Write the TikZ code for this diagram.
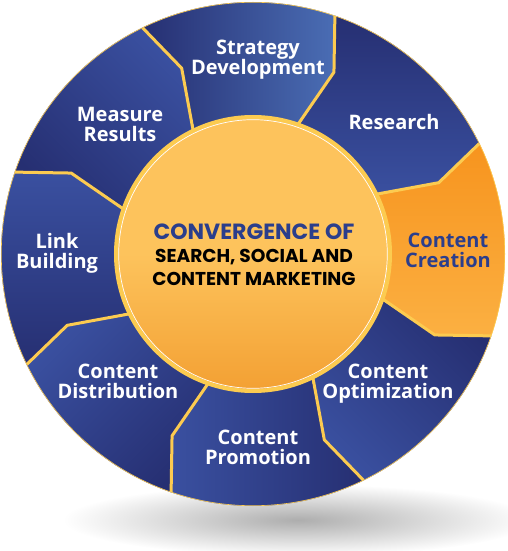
\documentclass[tikz,border=0pt]{standalone}
\usepackage{fontspec}
\usepackage{tikz}
\usetikzlibrary{positioning}

\newfontfamily\lblfont{Open Sans}
\newfontfamily\hubfont{Poppins}

\definecolor{navy}{HTML}{262F72}
\definecolor{navylight}{HTML}{3A50A0}
\definecolor{stratblue}{HTML}{4A6DB4}
\definecolor{segorange}{HTML}{F7941E}
\definecolor{segorangelight}{HTML}{FBB042}
\definecolor{rimyellow}{HTML}{FCCB50}
\definecolor{hubtop}{HTML}{FDC35C}
\definecolor{hubbottom}{HTML}{F3A033}
\definecolor{textblue}{HTML}{2B3E8C}

\tikzset{
  sep/.style={draw=rimyellow, line width=3pt, line join=round},
  lbl/.style={font=\lblfont\bfseries\fontsize{20}{20}\selectfont, text=white,
    align=center, anchor=north, inner sep=0pt},
  hubtxt/.style={anchor=base, inner sep=0pt}
}

\begin{document}
\begin{tikzpicture}[x=1pt,y=1pt]
\useasboundingbox (-253,-297) rectangle (255,254);

% shadow under the wheel
\shade[inner color=black!32, outer color=white] (45,-266) ellipse[x radius=235, y radius=36];

% segments
\shade[left color=navy, right color=stratblue] (116:130) -- (111:199) -- (116:252)
  arc[start angle=116, end angle=71, radius=252] -- (66:199) -- (71:130) -- cycle;
\shade[top color=navy, bottom color=navylight] (71:130) -- (66:199) -- (71:252)
  arc[start angle=71, end angle=26, radius=252] -- (21:199) -- (26:130) -- cycle;
\shade[top color=segorange, bottom color=segorangelight] (26:130) -- (21:199) -- (26:252)
  arc[start angle=26, end angle=-19, radius=252] -- (-24:199) -- (-19:130) -- cycle;
\shade[top color=navy, bottom color=navylight, shading angle=-45] (-19:130) -- (-24:199) -- (-19:252)
  arc[start angle=-19, end angle=-64, radius=252] -- (-69:199) -- (-64:130) -- cycle;
\shade[left color=navylight, right color=navy] (-64:130) -- (-69:199) -- (-64:252)
  arc[start angle=-64, end angle=-109, radius=252] -- (-114:199) -- (-109:130) -- cycle;
\shade[top color=navylight, bottom color=navy, shading angle=45] (-109:130) -- (-114:199) -- (-109:252)
  arc[start angle=-109, end angle=-154, radius=252] -- (-159:199) -- (-154:130) -- cycle;
\shade[top color=navylight, bottom color=navy] (-154:130) -- (-159:199) -- (-154:252)
  arc[start angle=-154, end angle=-199, radius=252] -- (156:199) -- (161:130) -- cycle;
\shade[top color=navylight, bottom color=navy, shading angle=-45] (161:130) -- (156:199) -- (161:252)
  arc[start angle=161, end angle=116, radius=252] -- (111:199) -- (116:130) -- cycle;
\draw[rimyellow, line width=0.6pt] (0,0) circle[radius=251.7];

% separators
\draw[sep] (116:136) -- (111:199) -- (116:251.5);
\draw[sep] (71:136) -- (66:199) -- (71:251.5);
\draw[sep] (26:136) -- (21:199) -- (26:251.5);
\draw[sep] (-19:136) -- (-24:199) -- (-19:251.5);
\draw[sep] (-64:136) -- (-69:199) -- (-64:251.5);
\draw[sep] (-109:136) -- (-114:199) -- (-109:251.5);
\draw[sep] (-154:136) -- (-159:199) -- (-154:251.5);
\draw[sep] (161:136) -- (156:199) -- (161:251.5);

% hub
\node[circle, minimum size=274pt, inner sep=0pt, draw=rimyellow, line width=4pt,
  top color=hubtop, bottom color=hubbottom, middle color=hubtop] (hub) at (0,0) {};
\draw[white, line width=0.7pt] (hub.center) circle[radius=134.3];

\node[hubtxt, text=textblue, font=\hubfont\bfseries\fontsize{22}{24}\selectfont] (conv) at (1,14) {CONVERGENCE OF};
\node[hubtxt, text=black, font=\hubfont\bfseries\fontsize{18.6}{22}\selectfont] (search) at (1,-9) {SEARCH, SOCIAL AND};
\node[hubtxt, text=black, font=\hubfont\bfseries\fontsize{18.6}{22}\selectfont] (cmark) at (1,-31) {CONTENT MARKETING};

% labels
\node[lbl] (strat) at (5,214) {Strategy\\Development};
\node[lbl] (research) at (141,140) {Research};
\node[lbl, text=textblue] (creation) at (195,21) {Content\\Creation};
\node[lbl] (optim) at (135,-110) {Content\\Optimization};
\node[lbl] (promo) at (5,-176) {Content\\Promotion};
\node[lbl] (distrib) at (-135,-110) {Content\\Distribution};
\node[lbl] (link) at (-196,21) {Link\\Building};
\node[lbl] (measure) at (-133,147) {Measure\\Results};
\end{tikzpicture}
\end{document}
